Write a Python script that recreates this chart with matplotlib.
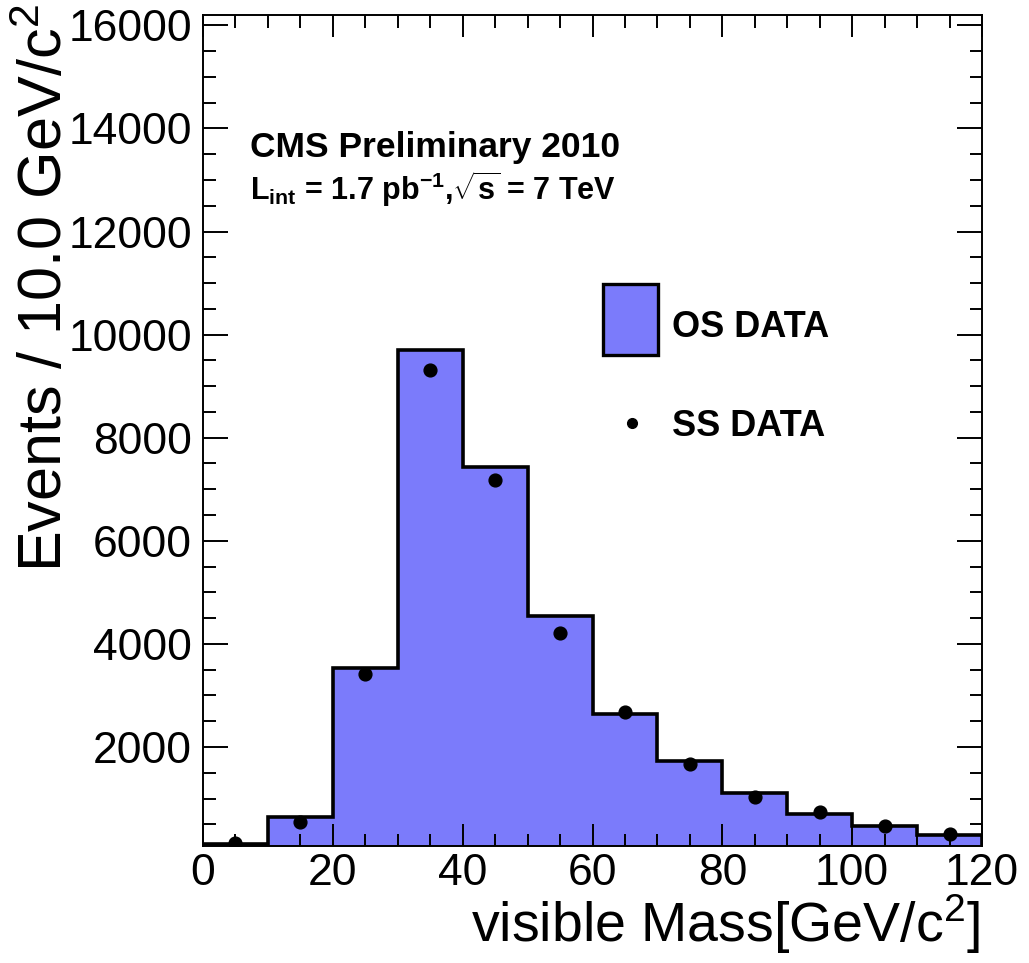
import numpy as np
import matplotlib
matplotlib.use("Agg")
import matplotlib.pyplot as plt
from matplotlib.ticker import MultipleLocator
from matplotlib.patches import Rectangle

# =====================================
# Datos
# =====================================

bordes = [0, 10, 20, 30, 40, 50, 60, 70, 80, 90, 100, 110, 120]
centros = [5, 15, 25, 35, 45, 55, 65, 75, 85, 95, 105, 115]
os_data = [125, 640, 3535, 9705, 7440, 4545, 2635, 1730, 1115, 710, 460, 300]
ss_data = [145, 545, 3410, 9305, 7180, 4205, 2680, 1680, 1030, 730, 460, 305]
ss_err = [12, 23, 58, 96, 85, 65, 52, 41, 32, 27, 21, 18]

plt.rcParams["font.family"] = ["Liberation Sans", "DejaVu Sans"]
plt.rcParams["mathtext.fontset"] = "custom"
plt.rcParams["mathtext.rm"] = "Liberation Sans"
plt.rcParams["mathtext.bf"] = "Liberation Sans:bold"
plt.rcParams["mathtext.it"] = "Liberation Sans:italic"

W, H = 1029, 963
fig = plt.figure(figsize=(W / 100, H / 100), dpi=100)
ax = fig.add_axes([203 / W, 1 - 846 / H, 779 / W, 831 / H])

color_os = "#7b7bfb"

ax.stairs(os_data, bordes, fill=True, facecolor=color_os, edgecolor="none",
          baseline=0)
ax.stairs(os_data, bordes, fill=False, color="black", linewidth=2.6, baseline=0)
ax.errorbar(centros, ss_data, yerr=ss_err, fmt="o", color="black", ms=9.2,
            elinewidth=1.4, capsize=0)

ax.set_xlim(0, 120)
ax.set_ylim(80, 16200)

ax.xaxis.set_major_locator(MultipleLocator(20))
ax.xaxis.set_minor_locator(MultipleLocator(5))
ax.yaxis.set_minor_locator(MultipleLocator(500))
ax.set_yticks([2000, 4000, 6000, 8000, 10000, 12000, 14000, 16000])

ax.tick_params(which="both", direction="in", top=True, right=True, width=1.4)
ax.tick_params(axis="x", which="major", length=16, labelsize=32, pad=5)
ax.tick_params(axis="x", which="minor", length=9)
ax.tick_params(axis="y", which="major", length=18, labelsize=32, pad=8)
ax.tick_params(axis="y", which="minor", length=9)
for s in ax.spines.values():
    s.set_linewidth(1.4)

fig.text(46 / W, 1 - 4 / H, r"Events / 10.0 GeV/c$^{2}$", rotation=90,
         ha="center", va="top", fontsize=44)
fig.text(980 / W, 1 - 942 / H, r"visible Mass[GeV/c$^{2}$]",
         ha="right", va="baseline", fontsize=40)

fig.text(250 / W, 1 - 157 / H, "CMS Preliminary 2010", fontsize=25.5,
         fontweight="bold", ha="left", va="baseline")
fig.text(250 / W, 1 - 200 / H,
         r"L$_{\mathbf{int}}$ = 1.7 pb$^{\mathbf{-1}}$,$\sqrt{\mathbf{s}}$ = 7 TeV",
         fontsize=22, fontweight="bold", ha="left", va="baseline")

# =====================================
# Leyenda dibujada a mano (caja grande y punto sin barra de error)
# =====================================

fig.patches.append(Rectangle((603 / W, 1 - 355 / H), 55 / W, 71 / H,
                             transform=fig.transFigure, facecolor=color_os,
                             edgecolor="black", linewidth=2.4))
fig.text(672 / W, 1 - 323 / H, "OS DATA", fontsize=26, fontweight="bold",
         ha="left", va="center_baseline")
fig.add_artist(plt.Line2D([632 / W], [1 - 423 / H], marker="o", color="black",
                          ms=7, linestyle="none", transform=fig.transFigure))
fig.text(672 / W, 1 - 423 / H, "SS DATA", fontsize=26, fontweight="bold",
         ha="left", va="center_baseline")

fig.savefig("out.png", dpi=100)
